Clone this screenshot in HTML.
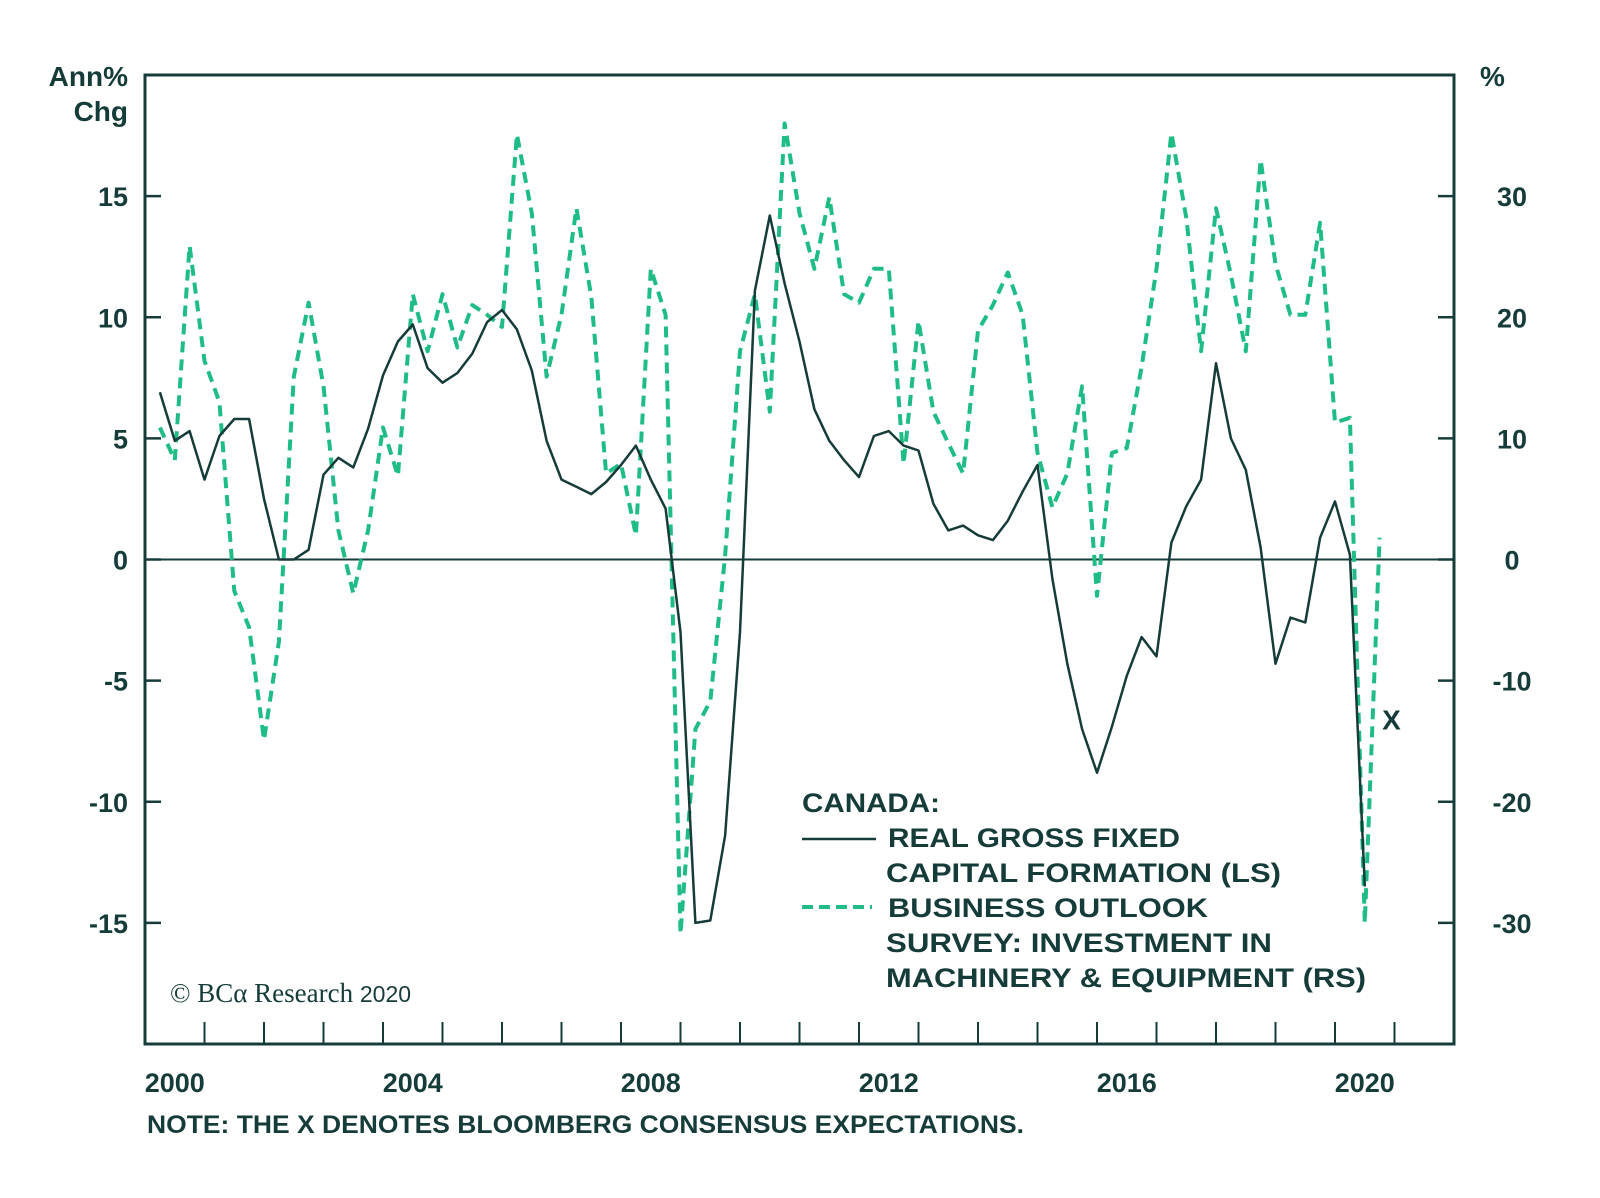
<!DOCTYPE html>
<html><head><meta charset="utf-8"><style>
html,body{margin:0;padding:0;background:#fff;}
svg{display:block;font-family:"Liberation Sans",sans-serif;font-weight:bold;}
</style></head><body>
<svg id="chart" width="1600" height="1198" viewBox="0 0 1600 1198" xmlns="http://www.w3.org/2000/svg">
<rect width="1600" height="1198" fill="#fff"/>
<g id="axes"></g>
<g id="series"></g>
<g id="legend">
  <text x="802" y="812" font-size="27" fill="#163c3a" textLength="138" lengthAdjust="spacingAndGlyphs">CANADA:</text>
  <line x1="802" y1="839" x2="876" y2="839" stroke="#163c3a" stroke-width="2.5"/>
  <text x="888" y="847" font-size="27" fill="#163c3a" textLength="292" lengthAdjust="spacingAndGlyphs">REAL GROSS FIXED</text>
  <text x="886" y="882" font-size="27" fill="#163c3a" textLength="395" lengthAdjust="spacingAndGlyphs">CAPITAL FORMATION (LS)</text>
  <line x1="802" y1="907" x2="872" y2="907" stroke="#1fbd85" stroke-width="4" stroke-dasharray="11,6"/>
  <text x="888" y="917" font-size="27" fill="#163c3a" textLength="320" lengthAdjust="spacingAndGlyphs">BUSINESS OUTLOOK</text>
  <text x="886" y="952" font-size="27" fill="#163c3a" textLength="386" lengthAdjust="spacingAndGlyphs">SURVEY: INVESTMENT IN</text>
  <text x="886" y="987" font-size="27" fill="#163c3a" textLength="480" lengthAdjust="spacingAndGlyphs">MACHINERY &amp; EQUIPMENT (RS)</text>
</g>
<text x="170" y="1002" font-family="Liberation Serif,serif" font-weight="normal" font-size="27" fill="#163c3a">© BCα Research <tspan font-family="Liberation Sans,sans-serif" font-size="23">2020</tspan></text>
<text x="128" y="86" text-anchor="end" font-size="28" fill="#163c3a">Ann%</text>
<text x="128" y="121" text-anchor="end" font-size="28" fill="#163c3a">Chg</text>
<text x="1480" y="86" font-size="28" fill="#163c3a">%</text>
<text x="147" y="1133" font-size="25" fill="#163c3a" textLength="877" lengthAdjust="spacingAndGlyphs">NOTE: THE X DENOTES BLOOMBERG CONSENSUS EXPECTATIONS.</text>
</svg>
<script>
const solidStart = 2000.25;
const solidValues = [6.9,4.9,5.3,3.3,5.1,5.8,5.8,2.5,0,0,0.4,3.5,4.2,3.8,5.4,7.6,9.0,9.7,7.9,7.3,7.7,8.5,9.8,10.3,9.5,7.8,4.9,3.3,3.0,2.7,3.2,3.9,4.7,3.3,2.1,-3.0,-15.0,-14.9,-11.4,-3.0,11.1,14.2,11.4,9.0,6.2,4.9,4.1,3.4,5.1,5.3,4.7,4.5,2.3,1.2,1.4,1.0,0.8,1.6,2.8,3.9,-0.8,-4.3,-7.0,-8.8,-6.9,-4.8,-3.2,-4.0,0.7,2.2,3.3,8.1,5.0,3.7,0.5,-4.3,-2.4,-2.6,0.9,2.4,0.2,-13.5];
const dashStart = 2000.25;
const dashValues = [10.9,8.2,25.9,16.4,13.0,-2.6,-5.6,-14.9,-6.8,15.1,21.2,14.3,2.4,-2.8,2.4,10.9,6.9,21.9,17.2,21.9,17.5,21.0,20.2,19.2,35.1,28.6,15.1,20.2,29.0,21.7,7.1,7.9,2.0,24.0,20.2,-30.9,-14.0,-11.7,0.3,17.2,21.9,12.2,36.0,28.6,24.0,29.9,21.9,21.2,24.0,24.0,7.9,19.7,12.2,9.6,7.1,18.9,21.0,23.7,20.2,8.8,4.3,7.1,14.3,-3.0,8.8,9.2,15.9,24.0,35.2,28.2,17.2,29.0,23.5,17.2,33.0,24.4,20.2,20.2,27.8,11.3,11.7,-30.0,1.8];
const consensusYear = [2020.95];
const consensusValue = [-13.2];
const leftTicks = [15,10,5,0,-5,-10,-15];
const rightTicks = [30,20,10,0,-10,-20,-30];
const yearLabels = [2000,2004,2008,2012,2016,2020];

const X0=145,X1=1454,Y0=75,Y1=1044;
const xs = y => X0 + (y-2000)/22*(X1-X0);
const yl = v => Y0 + (20-v)/40*(Y1-Y0);
const yr = v => Y0 + (40-v)/80*(Y1-Y0);
const NS='http://www.w3.org/2000/svg';
const C='#163c3a', G='#1fbd85';
function mk(tag,attrs,parent){const e=document.createElementNS(NS,tag);for(const k in attrs)e.setAttribute(k,attrs[k]);parent.appendChild(e);return e;}
const ax=document.getElementById('axes'), se=document.getElementById('series');

let f=mk('rect',{x:X0,y:Y0,width:X1-X0,height:Y1-Y0,fill:'none',stroke:C,'stroke-width':3},ax);


let z=mk('line',{x1:X0,x2:X1,y1:yl(0),y2:yl(0),stroke:C,'stroke-width':2},ax);


leftTicks.forEach(v=>{
  let t=mk('line',{x1:X0,x2:X0+16,y1:yl(v),y2:yl(v),stroke:C,'stroke-width':2.5},ax);
  
  
  let l=mk('text',{x:128,y:yl(v)+10,'text-anchor':'end','font-size':27,fill:C},ax);
  l.textContent=v;
  
  
});
rightTicks.forEach(v=>{
  let t=mk('line',{x1:X1-16,x2:X1,y1:yr(v),y2:yr(v),stroke:C,'stroke-width':2.5},ax);
  
  
  let l=mk('text',{x:1512,y:yr(v)+10,'text-anchor':'middle','font-size':27,fill:C},ax);
  l.textContent=v;
  
  
});
for(let yy=2001;yy<2022;yy++){
  let t=mk('line',{x1:xs(yy),x2:xs(yy),y1:Y1,y2:Y1-22,stroke:C,'stroke-width':2},ax);
  
  
}
yearLabels.forEach(yy=>{
  let l=mk('text',{x:xs(yy+0.5),y:1092,'text-anchor':'middle','font-size':27,fill:C},ax);
  l.textContent=yy;
  
  
});
let dp=dashValues.map((v,i)=>xs(dashStart+i*0.25).toFixed(1)+','+yr(v).toFixed(1)).join(' ');
let d=mk('polyline',{points:dp,fill:'none',stroke:G,'stroke-width':4,'stroke-dasharray':'11,7','stroke-linejoin':'round'},se);


let sp=solidValues.map((v,i)=>xs(solidStart+i*0.25).toFixed(1)+','+yl(v).toFixed(1)).join(' ');
let s=mk('polyline',{points:sp,fill:'none',stroke:C,'stroke-width':2.5,'stroke-linejoin':'round'},se);


consensusYear.forEach((yy,i)=>{
  let x=mk('text',{x:xs(yy),y:yr(consensusValue[i])+10,'text-anchor':'middle','font-size':28,fill:C},se);
  x.textContent='X';
  
  
});
</script>
</body></html>
